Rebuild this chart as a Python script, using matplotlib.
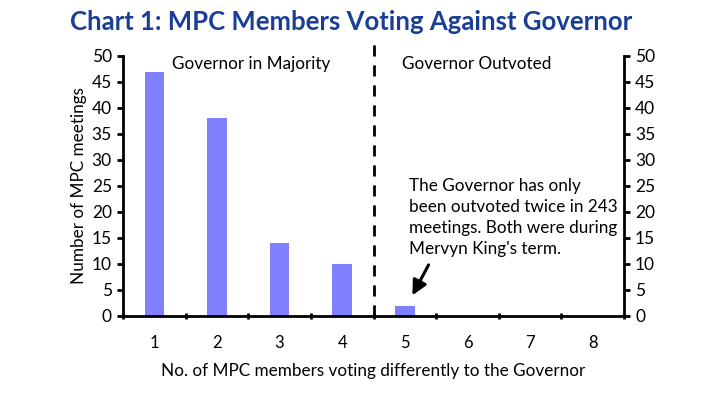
import matplotlib
matplotlib.use("Agg")
import matplotlib.pyplot as plt
import numpy as np

categories = [1, 2, 3, 4, 5, 6, 7, 8]
meetings = [47, 38, 14, 10, 2, 0, 0, 0]
yticks = [0, 5, 10, 15, 20, 25, 30, 35, 40, 45, 50]

plt.rcParams['font.family'] = ['Lato', 'DejaVu Sans']

fig = plt.figure(figsize=(7.02, 3.96), dpi=100)
ax = fig.add_axes([123/702, 1-316/396, (624-123)/702, (316-56)/396])

ax.bar(categories, meetings, width=0.31, color='#8080ff', zorder=2)
ax.set_xlim(0.5, 8.5)
ax.set_ylim(0, 50)
ax.set_yticks(yticks)
ax.set_xticks(categories)
ax.set_xticks(np.arange(0.5, 9.0, 1.0), minor=True)
ax.tick_params(axis='x', which='major', length=0, pad=14, labelsize=12)
ax.tick_params(axis='x', which='minor', length=4, width=2, direction='inout')
ax.tick_params(axis='y', length=4, width=2, direction='out', labelsize=12.5, pad=4)
for s in ['top', 'right']:
    ax.spines[s].set_visible(False)
for s in ['left', 'bottom']:
    ax.spines[s].set_linewidth(2)

ax2 = ax.twinx()
ax2.set_ylim(0, 50)
ax2.set_yticks(yticks)
for s in ['top', 'left', 'bottom']:
    ax2.spines[s].set_visible(False)
ax2.spines['right'].set_linewidth(2)
ax2.tick_params(axis='y', length=4, width=2, direction='out', labelsize=12.5, pad=4)

ax.plot([4.5, 4.5], [0, 52.4], color='black', lw=2, ls=(0, (4, 3.2)), clip_on=False, zorder=3)

ax.set_ylabel('Number of MPC meetings', fontsize=12.3, labelpad=3)
ax.set_xlabel('No. of MPC members voting differently to the Governor', fontsize=12.3, labelpad=8)

ax.text(2.55, 48.5, 'Governor in Majority', ha='center', va='center', fontsize=12.3)
ax.text(6.15, 48.5, 'Governor Outvoted', ha='center', va='center', fontsize=12.3)

ax.text(5.07, 26.6, "The Governor has only\nbeen outvoted twice in 243\nmeetings. Both were during\nMervyn King's term.",
        ha='left', va='top', fontsize=12.3, linespacing=1.4)
ax.annotate('', xy=(5.1, 3.5), xytext=(5.4, 10.3),
            arrowprops=dict(arrowstyle='-|>', color='black', lw=2.2, mutation_scale=22))

fig.text(0.5, 0.945, 'Chart 1: MPC Members Voting Against Governor', ha='center', va='center',
         fontsize=18.5, fontweight='bold', color='#1a3e96')

fig.savefig('out.png', dpi=100)
